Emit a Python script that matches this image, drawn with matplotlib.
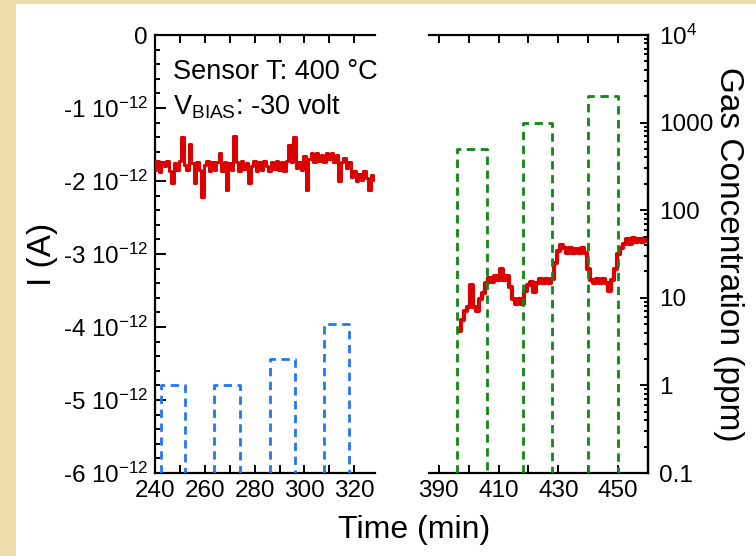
#!/usr/bin/env python3
import matplotlib

matplotlib.use("Agg")
import matplotlib.pyplot as plt
import numpy as np
from matplotlib.patches import Rectangle
from matplotlib.ticker import FixedLocator, FuncFormatter, LogLocator, MultipleLocator, NullFormatter

plt.rcParams["font.family"] = ["Liberation Sans", "DejaVu Sans"]
plt.rcParams["mathtext.fontset"] = "custom"
plt.rcParams["mathtext.rm"] = "Liberation Sans"
plt.rcParams["mathtext.it"] = "Liberation Sans:italic"

RED = "#dd0000"
BLUE = "#2277ee"
GREEN = "#118811"
PAPER = "#efdcab"

# current, left segment (1-min samples from 240 min), units of 1e-12 A
left_t0 = 240
left_current = [
    -1.85, -1.72, -1.88, -1.74, -1.80, -1.72, -1.86, -2.03, -1.75, -1.85,
    -1.72, -1.40, -1.78, -1.85, -1.49, -1.75, -2.03, -1.74, -1.85, -2.22,
    -1.78, -1.72, -1.86, -1.74, -1.85, -1.74, -1.62, -1.86, -1.74, -2.12,
    -1.76, -1.85, -1.38, -1.74, -1.86, -1.72, -1.84, -1.75, -2.03, -1.80,
    -1.72, -1.86, -1.74, -1.85, -1.72, -1.80, -1.86, -1.74, -1.83, -1.72,
    -1.85, -1.74, -1.86, -1.72, -1.50, -1.74, -1.40, -1.82, -1.74, -1.85,
    -1.66, -2.12, -1.70, -1.62, -1.74, -1.62, -1.72, -1.64, -1.74, -1.62,
    -1.70, -1.62, -1.74, -1.64, -2.00, -1.74, -1.68, -1.82, -1.74, -1.95,
    -1.86, -2.00, -1.90, -1.98, -1.86, -1.96, -2.12, -1.92, -1.98,
]

# current, right segment (1-min samples from 397 min)
right_t0 = 397
right_current = [
    -4.05, -3.90, -3.78, -3.72, -3.42, -3.72, -3.78, -3.62, -3.54, -3.40,
    -3.33, -3.38, -3.30, -3.36, -3.21, -3.36, -3.30, -3.45, -3.62, -3.68,
    -3.62, -3.68, -3.50, -3.42, -3.38, -3.52, -3.40, -3.34, -3.40, -3.34,
    -3.40, -3.34, -3.12, -2.96, -2.88, -2.92, -2.98, -2.92, -2.98, -2.93,
    -2.98, -2.92, -2.98, -3.20, -3.36, -3.40, -3.34, -3.40, -3.34, -3.40,
    -3.50, -3.36, -3.20, -3.00, -2.92, -2.86, -2.80, -2.86, -2.78, -2.84,
    -2.80, -2.84, -2.78, -2.82,
]

# gas pulses (ppm)
blue_start = [242.3, 263.8, 286.0, 308.0]
blue_end = [252.0, 274.0, 296.0, 318.0]
blue_ppm = [1.0, 1.0, 2.0, 5.0]

green_start = [396.0, 418.0, 440.0]
green_end = [406.0, 428.0, 450.0]
green_ppm = [500.0, 1000.0, 2000.0]

PPM_FLOOR = 0.1
TICK_FS = 17.5


def pulse_path(starts, ends, levels):
    xs, ys = [], []
    for a, b, v in zip(starts, ends, levels):
        xs += [a, a, b, b, np.nan]
        ys += [PPM_FLOOR, v, v, PPM_FLOOR, np.nan]
    return xs, ys


def sci_label(v, _pos):
    if abs(v) < 1e-20:
        return "0"
    return f"{v / 1e-12:.0f} 10$^{{-12}}$"


def ppm_label(v, _pos):
    labels = {0.1: "0.1", 1: "1", 10: "10", 100: "100", 1000: "1000", 1e4: "10$^4$"}
    for k, s in labels.items():
        if np.isclose(v, k):
            return s
    return ""


fig = plt.figure(figsize=(7.56, 5.56), dpi=100)
fig.patch.set_facecolor(PAPER)
fig.patches.append(Rectangle((16 / 756, 0), 1 - 16 / 756, 1 - 4 / 556,
                             transform=fig.transFigure, facecolor="white",
                             edgecolor="none", zorder=-5))

ax_l = fig.add_axes([155 / 756, 83 / 556, 220 / 756, 438 / 556])
ax_r = fig.add_axes([429 / 756, 83 / 556, 219 / 756, 438 / 556])
for ax in (ax_l, ax_r):
    ax.set_facecolor("none")
    for s in ax.spines.values():
        s.set_linewidth(1.6)

# left segment
t_left = left_t0 + np.arange(len(left_current))
ax_l.plot(t_left, np.array(left_current) * 1e-12, color=RED, lw=2.2,
          drawstyle="steps-mid", zorder=3)
ax_l.set_xlim(240, 328.3)
ax_l.set_ylim(-6e-12, 0)
ax_l.spines["right"].set_visible(False)
ax_l.xaxis.set_major_locator(FixedLocator([240, 260, 280, 300, 320]))
ax_l.xaxis.set_minor_locator(FixedLocator([250, 270, 290, 310]))
ax_l.yaxis.set_major_locator(MultipleLocator(1e-12))
ax_l.yaxis.set_minor_locator(MultipleLocator(0.2e-12))
ax_l.yaxis.set_major_formatter(FuncFormatter(sci_label))
ax_l.yaxis.get_offset_text().set_visible(False)
ax_l.tick_params(which="both", direction="in", width=1.4, labelsize=TICK_FS,
                 top=True, right=False)
ax_l.tick_params(axis="x", which="both", length=6, pad=5)
ax_l.tick_params(axis="y", which="major", length=8, pad=5)
ax_l.tick_params(axis="y", which="minor", length=3.6)
ax_l.set_ylabel("I (A)", fontsize=24)
ax_l.yaxis.set_label_coords((58 - 155) / 220, 0.5)

gas_l = ax_l.twinx()
gas_l.set_yscale("log")
gas_l.set_ylim(PPM_FLOOR, 1e4)
bx, by = pulse_path(blue_start, blue_end, blue_ppm)
gas_l.plot(bx, by, color=BLUE, lw=2, ls=(0, (3, 2)), zorder=2)
gas_l.axis("off")

# right segment
t_right = right_t0 + np.arange(len(right_current))
ax_r.plot(t_right, np.array(right_current) * 1e-12, color=RED, lw=3,
          drawstyle="steps-mid", zorder=3)
ax_r.set_xlim(386.7, 460)
ax_r.set_ylim(-6e-12, 0)
ax_r.spines["left"].set_visible(False)
ax_r.xaxis.set_major_locator(FixedLocator([390, 410, 430, 450]))
ax_r.xaxis.set_minor_locator(FixedLocator([400, 420, 440]))
ax_r.tick_params(axis="x", which="both", direction="in", width=1.4, length=6,
                 top=True, labelsize=TICK_FS, pad=5)
ax_r.yaxis.set_visible(False)

gas_r = ax_r.twinx()
gas_r.set_yscale("log")
gas_r.set_ylim(PPM_FLOOR, 1e4)
gx, gy = pulse_path(green_start, green_end, green_ppm)
gas_r.plot(gx, gy, color=GREEN, lw=2, ls=(0, (3, 2)), zorder=2)
gas_r.yaxis.set_major_locator(LogLocator(base=10, numticks=10))
gas_r.yaxis.set_minor_locator(LogLocator(base=10, subs=np.arange(2, 10), numticks=10))
gas_r.yaxis.set_major_formatter(FuncFormatter(ppm_label))
gas_r.yaxis.set_minor_formatter(NullFormatter())
gas_r.tick_params(which="both", direction="in", width=1.4, labelsize=TICK_FS,
                  left=False, right=True)
gas_r.tick_params(which="major", length=6, pad=8)
gas_r.tick_params(which="minor", length=3)
for side in ("left", "top", "bottom"):
    gas_r.spines[side].set_visible(False)
gas_r.spines["right"].set_linewidth(1.6)
gas_r.set_ylabel("Gas Concentration (ppm)", fontsize=24, rotation=270)
gas_r.yaxis.set_label_coords((744 - 429) / 219, 0.5)

fig.text(414 / 756, 1 - 538 / 556, "Time (min)", ha="center", va="baseline", fontsize=23)
fig.text(173 / 756, 1 - 79 / 556, "Sensor T: 400 °C", fontsize=19.5,
         va="baseline", ha="left")
fig.text(173 / 756, 1 - 114 / 556, "V$_{\\rm BIAS}$: -30 volt", fontsize=19.5,
         va="baseline", ha="left")

fig.savefig("out.png", dpi=100, facecolor=fig.get_facecolor())
